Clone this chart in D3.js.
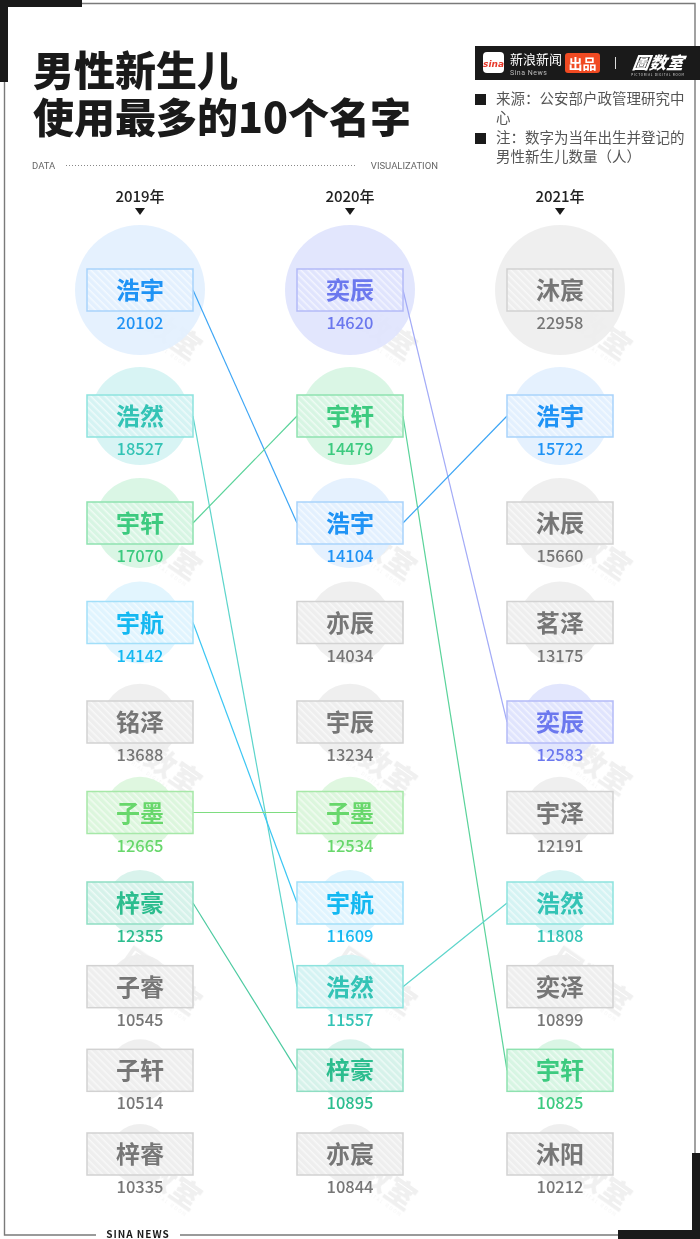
<!DOCTYPE html>
<html>
<head>
<meta charset="utf-8">
<script src="https://cdn.jsdelivr.net/npm/d3@7"></script>
<style>
  body { margin: 0; background: #fff; }
  svg { display: block; font-family: "Noto Sans CJK SC", "Noto Sans", sans-serif; }
</style>
</head>
<body>
<div id="chart"></div>
<script>
// data
const years = ["2019年", "2020年", "2021年"];
const names2019 = ["浩宇", "浩然", "宇轩", "宇航", "铭泽", "子墨", "梓豪", "子睿", "子轩", "梓睿"];
const values2019 = [20102, 18527, 17070, 14142, 13688, 12665, 12355, 10545, 10514, 10335];
const names2020 = ["奕辰", "宇轩", "浩宇", "亦辰", "宇辰", "子墨", "宇航", "浩然", "梓豪", "亦宸"];
const values2020 = [14620, 14479, 14104, 14034, 13234, 12534, 11609, 11557, 10895, 10844];
const names2021 = ["沐宸", "浩宇", "沐辰", "茗泽", "奕辰", "宇泽", "浩然", "奕泽", "宇轩", "沐阳"];
const values2021 = [22958, 15722, 15660, 13175, 12583, 12191, 11808, 10899, 10825, 10212];
const titleLines = ["男性新生儿", "使用最多的10个名字"];
const sourceNote = ["来源：公安部户政管理研究中", "心"];
const unitNote = ["注：数字为当年出生并登记的", "男性新生儿数量（人）"];

// colours for names that repeat across years
const palette = {
  "浩宇": { text: "#1f93f5", bg: "#e3f0fe", edge: "#a9d3fb", line: "#3ea6f5" },
  "浩然": { text: "#33c3b5", bg: "#d5f3f3", edge: "#8de3de", line: "#5dd5cb" },
  "宇轩": { text: "#3cca7f", bg: "#d7f5e3", edge: "#8fe2b0", line: "#5ad39a" },
  "宇航": { text: "#14b8f1", bg: "#e0f4fe", edge: "#a2dff9", line: "#3cc6f3" },
  "子墨": { text: "#68d76c", bg: "#dcf6dd", edge: "#a6e8a8", line: "#7edd80" },
  "梓豪": { text: "#2cbd8e", bg: "#d6f2ea", edge: "#8fdec3", line: "#4ccaa0" },
  "奕辰": { text: "#6b78ee", bg: "#e0e4fd", edge: "#b4bbf7", line: "#a3abf7" }
};
const grey = { text: "#767676", bg: "#eeeeee", edge: "#d2d2d2", line: "#ccc" };

const columns = [
  { year: years[0], names: names2019, values: values2019 },
  { year: years[1], names: names2020, values: values2020 },
  { year: years[2], names: names2021, values: values2021 }
];

const width = 700, height = 1239;
const boxW = 106, boxH = 42;

// rows get tighter further down the list
const x = d3.scalePoint().domain(years).range([140, 560]);
const y = d3.scaleLinear().domain([1, 2, 3, 5, 7, 10]).range([290, 416, 523, 722, 903, 1154]);
const radius = d3.scaleLinear().domain([1, 1.99, 2, 4, 7, 10]).range([65, 65, 49, 41, 33, 30]);

// count how many years each name shows up in
const seen = {};
columns.forEach(c => c.names.forEach(n => seen[n] = (seen[n] || 0) + 1));
const colorOf = n => seen[n] > 1 && palette[n] ? palette[n] : grey;

const cells = [];
columns.forEach(c => c.names.forEach((n, i) => {
  cells.push({ year: c.year, name: n, value: c.values[i], rank: i + 1 });
}));

const links = [];
for (let k = 0; k < columns.length - 1; k++) {
  const a = columns[k], b = columns[k + 1];
  a.names.forEach((n, i) => {
    const j = b.names.indexOf(n);
    if (j >= 0) links.push({ name: n, from: a.year, to: b.year, r0: i + 1, r1: j + 1 });
  });
}

const svg = d3.select("#chart").append("svg")
  .attr("width", width)
  .attr("height", height);

// hatch patterns
const defs = svg.append("defs");
const styleKeys = Object.keys(palette).concat(["grey"]);
styleKeys.forEach((key, idx) => {
  const c = key === "grey" ? grey : palette[key];
  const p = defs.append("pattern")
    .attr("id", "hatch" + idx)
    .attr("patternUnits", "userSpaceOnUse")
    .attr("width", 5).attr("height", 5)
    .attr("patternTransform", "rotate(45)");
  p.append("rect").attr("width", 5).attr("height", 5).attr("fill", c.bg);
  p.append("rect").attr("width", 5).attr("height", 1.5).attr("fill", "#fff").attr("opacity", 0.6);
});
const hatchOf = n => "url(#hatch" + (seen[n] > 1 && palette[n] ? styleKeys.indexOf(n) : styleKeys.length - 1) + ")";

// faint watermarks (under the marks)
const marks = [];
[130, 345, 560].forEach(mx => [335, 555, 770, 990, 1185].forEach(my => marks.push([mx, my])));
const wm = svg.append("g").attr("opacity", 0.06).attr("pointer-events", "none");
marks.forEach(([mx, my]) => {
  const g = wm.append("g").attr("transform", `translate(${mx + 25},${my}) rotate(35)`);
  g.append("text").attr("text-anchor", "middle").attr("font-size", 30).attr("font-weight", 900)
    .attr("fill", "#000").text("圖数室");
  g.append("text").attr("y", 9).attr("text-anchor", "middle").attr("font-size", 4.5)
    .attr("letter-spacing", 1.5).attr("fill", "#000").text("PICTORIAL DIGITAL ROOM");
});

// frame
const frame = svg.append("g").attr("stroke", "#7a7a7a").attr("stroke-width", 1.4).attr("fill", "none");
frame.append("path").attr("d", "M82,3.5 H695 V1160");
frame.append("path").attr("d", "M4.5,80 V1235 H96 M180,1235 H620");
svg.append("path").attr("d", "M0,0 H82 V7 H8 V82 H0 Z").attr("fill", "#1a1a1a");
svg.append("path").attr("d", "M692,1153 H700 V1239 H618 V1230 H692 Z").attr("fill", "#1a1a1a");
svg.append("text")
  .attr("x", 138).attr("y", 1233)
  .attr("dominant-baseline", "central")
  .attr("text-anchor", "middle")
  .attr("font-size", 10).attr("font-weight", 700)
  .attr("letter-spacing", 1).attr("fill", "#1a1a1a")
  .text("SINA NEWS");

// title
svg.append("text")
  .attr("font-size", 41).attr("font-weight", 900).attr("fill", "#1a1a1a")
  .selectAll("tspan").data(titleLines).join("tspan")
  .attr("x", 33).attr("y", (d, i) => 86 + i * 47)
  .text(d => d);

svg.append("text").attr("x", 32).attr("y", 169)
  .attr("font-size", 9.5).attr("fill", "#666").attr("font-family", "Roboto, sans-serif")
  .text("DATA");
svg.append("line").attr("x1", 66).attr("x2", 356).attr("y1", 165.5).attr("y2", 165.5)
  .attr("stroke", "#888").attr("stroke-dasharray", "1,2");
svg.append("text").attr("x", 438).attr("y", 169)
  .attr("text-anchor", "end")
  .attr("font-size", 9.5).attr("fill", "#666").attr("font-family", "Roboto, sans-serif")
  .text("VISUALIZATION");

// brand bar
const brand = svg.append("g");
brand.append("rect").attr("x", 475).attr("y", 46).attr("width", 225).attr("height", 34).attr("fill", "#1a1a1a");
brand.append("rect").attr("x", 483).attr("y", 52).attr("width", 21).attr("height", 21).attr("rx", 4).attr("fill", "#fff");
brand.append("text").attr("x", 493.5).attr("y", 66.5).attr("text-anchor", "middle")
  .attr("font-size", 9).attr("font-style", "italic").attr("font-weight", 700)
  .attr("fill", "#e8382a").attr("font-family", "DejaVu Sans, sans-serif").text("sina");
brand.append("text").attr("x", 510).attr("y", 64).attr("font-size", 13).attr("fill", "#fff").text("新浪新闻");
brand.append("text").attr("x", 510).attr("y", 74.5).attr("font-size", 7).attr("fill", "#bbb")
  .attr("font-family", "Roboto, sans-serif").attr("letter-spacing", 0.5).text("Sina News");
brand.append("rect").attr("x", 565).attr("y", 53).attr("width", 35).attr("height", 20).attr("rx", 3).attr("fill", "#f04a22");
brand.append("text").attr("x", 582.5).attr("y", 68.5).attr("text-anchor", "middle")
  .attr("font-size", 14).attr("font-weight", 700).attr("fill", "#fff").text("出品");
brand.append("line").attr("x1", 615.5).attr("x2", 615.5).attr("y1", 57).attr("y2", 69).attr("stroke", "#ddd");
brand.append("text").attr("x", 658).attr("y", 69).attr("text-anchor", "middle")
  .attr("font-size", 17).attr("font-weight", 900).attr("font-style", "italic").attr("fill", "#fff")
  .attr("transform", "skewX(-8) translate(9,0)").text("圖数室");
brand.append("text").attr("x", 658).attr("y", 75.5).attr("text-anchor", "middle")
  .attr("font-size", 3).attr("fill", "#ddd").attr("letter-spacing", 0.8)
  .text("PICTORIAL DIGITAL ROOM");

// notes
const notes = svg.append("g").attr("font-size", 14.5).attr("fill", "#555");
[[sourceNote, 104], [unitNote, 143]].forEach(([lines, y0]) => {
  notes.append("rect").attr("x", 475).attr("y", y0 - 10).attr("width", 11).attr("height", 11).attr("fill", "#1a1a1a");
  lines.forEach((t, i) => notes.append("text").attr("x", 496).attr("y", y0 + i * 19).text(t));
});

// year headers
const head = svg.append("g").selectAll("g").data(years).join("g")
  .attr("transform", d => `translate(${x(d)},0)`);
head.append("text").attr("y", 202).attr("text-anchor", "middle")
  .attr("font-size", 15).attr("font-weight", 500).attr("fill", "#222").text(d => d);
head.append("path").attr("d", "M-5,208 L5,208 L0,215 Z").attr("fill", "#1a1a1a");

// circles
svg.append("g").selectAll("circle").data(cells).join("circle")
  .attr("cx", d => x(d.year))
  .attr("cy", d => y(d.rank))
  .attr("r", d => radius(d.rank))
  .attr("fill", d => colorOf(d.name).bg)
  .attr("opacity", 0.92);

// connecting lines
svg.append("g").selectAll("line").data(links).join("line")
  .attr("x1", d => x(d.from) + boxW / 2)
  .attr("y1", d => y(d.r0))
  .attr("x2", d => x(d.to) - boxW / 2)
  .attr("y2", d => y(d.r1))
  .attr("stroke", d => colorOf(d.name).line)
  .attr("stroke-width", 1.2);

// name boxes and labels
const cell = svg.append("g").selectAll("g").data(cells).join("g")
  .attr("transform", d => `translate(${x(d.year)},${y(d.rank)})`);
cell.append("rect")
  .attr("x", -boxW / 2).attr("y", -boxH / 2)
  .attr("width", boxW).attr("height", boxH)
  .attr("fill", d => hatchOf(d.name))
  .attr("stroke", d => colorOf(d.name).edge)
  .attr("stroke-width", 1.5);
cell.append("text")
  .attr("y", 9).attr("text-anchor", "middle")
  .attr("font-size", 24).attr("font-weight", 700)
  .attr("fill", d => colorOf(d.name).text)
  .text(d => d.name);
cell.append("text")
  .attr("y", 39).attr("text-anchor", "middle")
  .attr("font-size", 16.5).attr("font-weight", 500)
  .attr("fill", d => colorOf(d.name).text)
  .text(d => d.value);
</script>
</body>
</html>
